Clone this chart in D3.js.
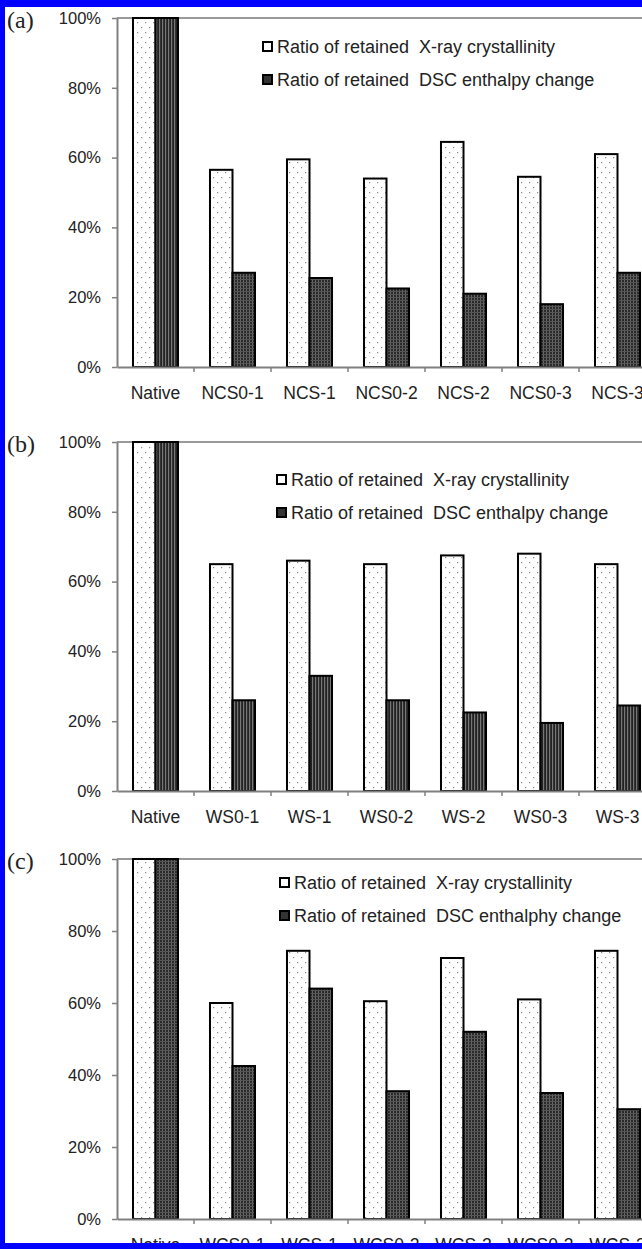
<!DOCTYPE html>
<html><head><meta charset="utf-8">
<script src="https://cdn.jsdelivr.net/npm/d3@7"></script>
<style>html,body{margin:0;padding:0;background:#fff}svg{display:block}</style>
</head><body>
<svg id="c" width="642" height="1249"></svg>
<script>
const categoriesA = ["Native","NCS0-1","NCS-1","NCS0-2","NCS-2","NCS0-3","NCS-3"];
const categoriesB = ["Native","WS0-1","WS-1","WS0-2","WS-2","WS0-3","WS-3"];
const categoriesC = ["Native","WCS0-1","WCS-1","WCS0-2","WCS-2","WCS0-3","WCS-3"];
const xrayA = [100,56.5,59.5,54,64.5,54.5,61];
const dscA  = [100,27,25.5,22.5,21,18,27];
const xrayB = [100,65,66,65,67.5,68,65];
const dscB  = [100,26,33,26,22.5,19.5,24.5];
const xrayC = [100,60,74.5,60.5,72.5,61,74.5];
const dscC  = [100,42.5,64,35.5,52,35,30.5];
const yTicks = [0,20,40,60,80,100];
const panelLabels = ["(a)","(b)","(c)"];
const legendA = ["Ratio of retained  X-ray crystallinity","Ratio of retained  DSC enthalpy change"];
const legendC = ["Ratio of retained  X-ray crystallinity","Ratio of retained  DSC enthalphy change"];

const svg = d3.select("#c");
const defs = svg.append("defs");
const pd = defs.append("pattern").attr("id","dots").attr("patternUnits","userSpaceOnUse").attr("width",8).attr("height",10);
pd.append("rect").attr("width",8).attr("height",10).attr("fill","#fff");
pd.append("rect").attr("x",1).attr("y",2).attr("width",1.2).attr("height",1.2).attr("fill","#888");
pd.append("rect").attr("x",5).attr("y",7).attr("width",1.2).attr("height",1.2).attr("fill","#888");
const pc = defs.append("pattern").attr("id","check").attr("patternUnits","userSpaceOnUse").attr("width",3).attr("height",3);
pc.append("rect").attr("width",3).attr("height",3).attr("fill","#2a2a2a");
pc.append("rect").attr("x",0).attr("y",0).attr("width",1).attr("height",3).attr("fill","#666");
pc.append("rect").attr("x",0).attr("y",0).attr("width",3).attr("height",1).attr("fill","#555");
const ps = defs.append("pattern").attr("id","stripes").attr("patternUnits","userSpaceOnUse").attr("width",3).attr("height",3);
ps.append("rect").attr("width",3).attr("height",3).attr("fill","#222");
ps.append("rect").attr("x",0).attr("width",1.2).attr("height",3).attr("fill","#777");

const panels = [
  {cats:categoriesA, xr:xrayA, ds:dscA, top:18, bot:367, lab:panelLabels[0], leg:legendA, lx:262, ly:47, dark:"check"},
  {cats:categoriesB, xr:xrayB, ds:dscB, top:442, bot:791, lab:panelLabels[1], leg:legendA, lx:276, ly:480, dark:"stripes"},
  {cats:categoriesC, xr:xrayC, ds:dscC, top:859, bot:1219, lab:panelLabels[2], leg:legendC, lx:279, ly:883, dark:"check"}
];
const x0 = 117, step = 77;

panels.forEach(p => {
  const g = svg.append("g");
  const x = d3.scaleBand().domain(p.cats).range([x0, x0 + step*p.cats.length]).padding(0);
  const xs = d3.scaleBand().domain(["xray","dsc"]).range([0, x.bandwidth()]).paddingInner(0).paddingOuter(0.71);
  const y = d3.scaleLinear().domain([0,100]).range([p.bot, p.top]);
  g.append("line").attr("x1",x0).attr("x2",642).attr("y1",p.top).attr("y2",p.top).attr("stroke","#999").attr("stroke-width",2);
  const data = p.cats.map((c,i)=>({c, xray:p.xr[i], dsc:p.ds[i]}));
  g.selectAll("rect.xr").data(data).join("rect")
    .attr("x",d=>x(d.c)+xs("xray")).attr("width",xs.bandwidth())
    .attr("y",d=>y(d.xray)).attr("height",d=>y(0)-y(d.xray))
    .attr("fill","url(#dots)").attr("stroke","#000").attr("stroke-width",2);
  g.selectAll("rect.ds").data(data).join("rect")
    .attr("x",d=>x(d.c)+xs("dsc")).attr("width",xs.bandwidth())
    .attr("y",d=>y(d.dsc)).attr("height",d=>y(0)-y(d.dsc))
    .attr("fill",(d,i)=> (i===0 && p.lab==="(a)") ? "url(#stripes)" : "url(#"+p.dark+")")
    .attr("stroke","#000").attr("stroke-width",2);
  const ya = g.append("g").attr("transform",`translate(${x0},0)`)
    .call(d3.axisLeft(y).tickValues(yTicks).tickFormat(d=>d+"%").tickSize(5).tickSizeOuter(0).tickPadding(11));
  ya.select(".domain").attr("stroke","#808080").attr("stroke-width",2);
  ya.selectAll(".tick line").attr("stroke","#808080").attr("stroke-width",1.5);
  ya.selectAll("text").attr("font-family","Liberation Sans, Arial, sans-serif").attr("font-size",16.5).attr("fill","#222");
  const xa = g.append("g").attr("transform",`translate(0,${p.bot})`)
    .call(d3.axisBottom(x).tickSize(0).tickSizeOuter(0).tickPadding(20));
  xa.select(".domain").attr("stroke","#808080").attr("stroke-width",2);
  xa.selectAll("text").attr("font-family","Liberation Sans, Arial, sans-serif").attr("font-size",17.5).attr("fill","#222");
  g.selectAll("line.bt").data(p.cats.slice(1)).join("line")
    .attr("x1",d=>x(d)).attr("x2",d=>x(d)).attr("y1",p.bot).attr("y2",p.bot+5)
    .attr("stroke","#808080").attr("stroke-width",1.5);
  g.append("text").attr("x",7).attr("y",p.top+10).text(p.lab)
    .attr("font-family","Liberation Serif, Times New Roman, serif").attr("font-size",24).attr("fill","#222");
  p.leg.forEach((t,i)=>{
    const yy = p.ly + i*33;
    g.append("rect").attr("x",p.lx+1).attr("y",yy-5).attr("width",9).attr("height",9)
      .attr("fill",i===0?"#fff":"#333").attr("stroke","#000").attr("stroke-width",2);
    g.append("text").attr("x",p.lx+15).attr("y",yy+6).text(t).style("white-space","pre")
      .attr("font-family","Liberation Sans, Arial, sans-serif").attr("font-size",18).attr("fill","#222");
  });
});
// blue frame (left, top, bottom)
svg.append("rect").attr("x",0).attr("y",0).attr("width",5).attr("height",1249).attr("fill","#0000ff");
svg.append("rect").attr("x",0).attr("y",0).attr("width",642).attr("height",7).attr("fill","#0000ff");
svg.append("rect").attr("x",0).attr("y",1243).attr("width",642).attr("height",6).attr("fill","#0000ff");
</script>
</body></html>
